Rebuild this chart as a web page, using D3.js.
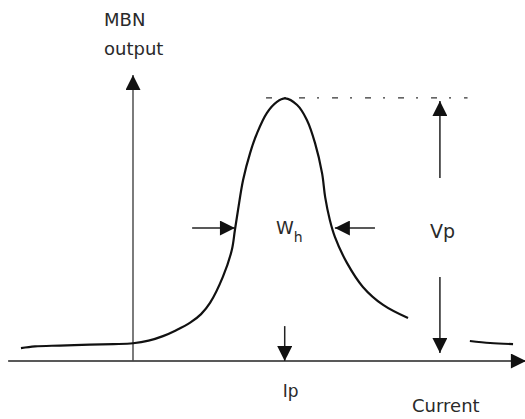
<!DOCTYPE html>
<html>
<head>
<meta charset="utf-8">
<script src="https://cdn.jsdelivr.net/npm/d3@7"></script>
<style>
  html, body { margin: 0; padding: 0; background: #fff; }
  svg { display: block; }
  text { font-family: "DejaVu Sans", "Noto Sans", sans-serif; fill: #2a2a2a; }
</style>
</head>
<body>
<svg id="chart" width="525" height="419"></svg>
<script>
// MBN output versus magnetising current: a single peak with its
// height (Vp), position (Ip) and half-height width (Wh) marked.

// Main curve, current (x) and MBN output (y) in arbitrary units
const curveX = [-28.8, -25.2, -18.8, -11.1, -5.0, 0, 4.0, 7.7, 11.0, 14.7, 17.5, 19.8, 23.1, 25.4, 26.2, 27.0, 28.3, 30.1,
                31.9, 34.4, 37.0, 39.1, 42.2, 44.7, 46.8, 48.6, 49.4, 50.6, 51.9, 55.0, 59.1, 64.3, 70.7];
const curveY = [4.5, 5.1, 5.4, 5.7, 5.9, 6.2, 7.1, 8.7, 10.7, 13.4, 16.4, 20.3, 29.4, 38.8, 45.8, 52.8, 63.3, 72.7,
                79.7, 86.7, 90.6, 91.8, 89.5, 84.3, 76.2, 65.7, 57.3, 49.3, 43.4, 34.3, 25.9, 19.6, 15.0];

// Separate tail piece at high current
const tailX = [86.6, 91.8, 97.7];
const tailY = [7.0, 6.3, 5.9];

// Peak descriptors
const peakCurrent = [39.0];          // Ip
const peakHeight = [92.0];           // Vp
const halfLevel = [46.5];            // level where Wh is measured
const halfEdges = [26.2, 51.9];      // left / right edges of Wh

// Labels
const yAxisLabel = ["MBN", "output"];
const xAxisLabel = ["Current"];

const svg = d3.select("#chart");
const xs = d3.scaleLinear().domain([0, 100]).range([133, 522]);
const ys = d3.scaleLinear().domain([0, 100]).range([361, 75]);

// arrowhead markers
const defs = svg.append("defs");
function marker(id, len, wid) {
  defs.append("marker")
    .attr("id", id)
    .attr("viewBox", "0 0 10 10")
    .attr("refX", 10).attr("refY", 5)
    .attr("markerUnits", "userSpaceOnUse")
    .attr("markerWidth", len).attr("markerHeight", wid)
    .attr("orient", "auto")
    .append("path").attr("d", "M0,0 L10,5 L0,10 Z").attr("fill", "#111");
}
marker("ah", 17, 15);
marker("axh", 16, 15);

// axes
svg.append("line")
  .attr("x1", xs(-32.1)).attr("y1", ys(0))
  .attr("x2", xs(101)).attr("y2", ys(0))
  .attr("stroke", "#222").attr("stroke-width", 1.6)
  .attr("marker-end", "url(#axh)");
svg.append("line")
  .attr("x1", xs(0)).attr("y1", ys(0))
  .attr("x2", xs(0)).attr("y2", ys(100))
  .attr("stroke", "#444").attr("stroke-width", 1.4)
  .attr("marker-end", "url(#axh)");

// peak-level dash-dot guide
svg.append("line")
  .attr("x1", xs(34.2)).attr("y1", ys(peakHeight[0]))
  .attr("x2", xs(86)).attr("y2", ys(peakHeight[0]))
  .attr("stroke", "#333").attr("stroke-width", 1.3)
  .attr("stroke-dasharray", "6,12,2,13");

// curve
const line = d3.line()
  .x(d => xs(d[0])).y(d => ys(d[1]))
  .curve(d3.curveCatmullRom.alpha(0.5));
svg.append("path")
  .datum(d3.zip(curveX, curveY))
  .attr("d", line)
  .attr("fill", "none").attr("stroke", "#111").attr("stroke-width", 2.2);
svg.append("path")
  .datum(d3.zip(tailX, tailY))
  .attr("d", line)
  .attr("fill", "none").attr("stroke", "#111").attr("stroke-width", 2.2);

// annotation arrows
function arrow(x1, y1, x2, y2) {
  svg.append("line")
    .attr("x1", xs(x1)).attr("y1", ys(y1))
    .attr("x2", xs(x2)).attr("y2", ys(y2))
    .attr("stroke", "#222").attr("stroke-width", 1.5)
    .attr("marker-end", "url(#ah)");
}
const vpX = 78.9;
arrow(vpX, 64.0, vpX, peakHeight[0] - 1.1);
arrow(vpX, 29.4, vpX, 2.8);
arrow(peakCurrent[0], 12.2, peakCurrent[0], 0);
arrow(15.2, halfLevel[0], halfEdges[0], halfLevel[0]);
arrow(62.2, halfLevel[0], halfEdges[1], halfLevel[0]);

// labels
const fs = 18;
svg.append("text").attr("x", 104).attr("y", 26).attr("font-size", fs).text(yAxisLabel[0]);
svg.append("text").attr("x", 104).attr("y", 55).attr("font-size", fs).text(yAxisLabel[1]);
svg.append("text").attr("x", 412).attr("y", 412).attr("font-size", fs).text(xAxisLabel[0]);

svg.append("text").attr("x", xs(peakCurrent[0]) - 2).attr("y", 397).attr("font-size", 17)
  .text("Ip");
svg.append("text").attr("x", 430).attr("y", 238).attr("font-size", 19)
  .text("Vp");
const wh = svg.append("text").attr("x", 276).attr("y", 234).attr("font-size", fs);
wh.append("tspan").text("W");
wh.append("tspan").attr("dy", 8).attr("font-size", 14).text("h");
</script>
</body>
</html>
